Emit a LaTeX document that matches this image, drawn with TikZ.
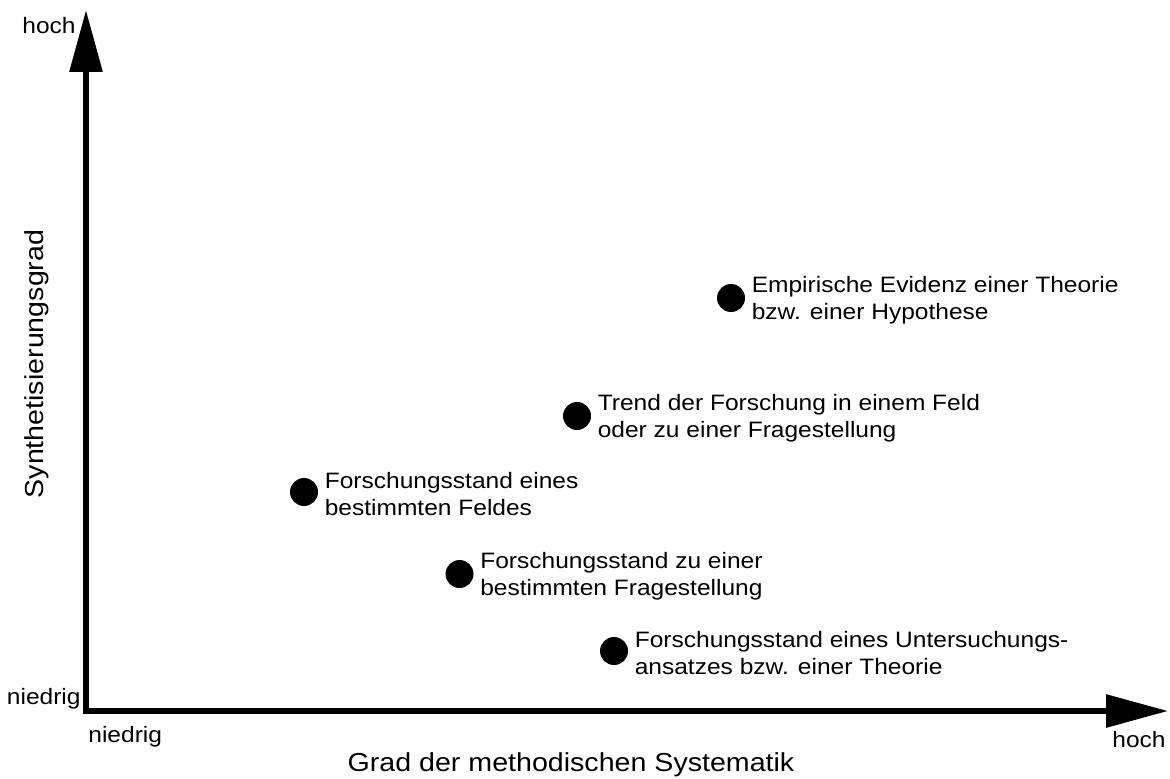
\documentclass[tikz,border=0pt]{standalone}
\usepackage{fontspec}
\setmainfont[FakeStretch=1.1]{Liberation Sans}
\usetikzlibrary{arrows.meta,positioning}

\begin{document}
\begin{tikzpicture}[
	x=0.5pt, y=0.5pt,
	axis/.style={ line width=3pt, line join=miter, {Triangle[length=31pt,width=16pt]}-{Triangle[length=31pt,width=16pt]} },
	dot/.style={ circle, fill, inner sep=0pt, minimum size=14pt },
	lbl/.style={ font=\fontsize{11.15}{13.25}\selectfont, align=left, inner sep=0pt, yshift=-1pt },
	tick/.style={ font=\fontsize{11.15}{13.25}\selectfont, inner sep=0pt },
	title/.style={ font=\fontsize{13}{15}\selectfont, inner sep=0pt }
]
\useasboundingbox (0,0) rectangle (1170,778);

\coordinate (O) at (86,67);
\coordinate (ytip) at (86,768);
\coordinate (xtip) at (1168,67);
\draw[axis] (ytip) -- (O) -- (xtip);

\node at (76,744) (yhigh) [tick,anchor=base east] {hoch};
\node at (81,74) (ylow) [tick,anchor=base east] {niedrig};
\node at (88,36) (xlow) [tick,anchor=base west] {niedrig};
\node at (1166,31) (xhigh) [tick,anchor=base east] {hoch};
\node at (571,7) (xtitle) [title,anchor=base] {Grad der methodischen Systematik};
\node at (43,414) (ytitle) [title,anchor=base,rotate=90] {Synthetisierungsgrad};

\node at (731,480) (d1) [dot] {};
\node[lbl,right=3pt of d1] (l1) {Empirische Evidenz einer Theorie\\bzw. einer Hypothese};
\node at (577,362) (d2) [dot] {};
\node[lbl,right=3pt of d2] (l2) {Trend der Forschung in einem Feld\\oder zu einer Fragestellung};
\node at (304,286) (d3) [dot] {};
\node[lbl,right=3pt of d3] (l3) {Forschungsstand eines\\bestimmten Feldes};
\node at (459.5,204) (d4) [dot] {};
\node[lbl,right=3pt of d4] (l4) {Forschungsstand zu einer\\bestimmten Fragestellung};
\node at (614,127) (d5) [dot] {};
\node[lbl,right=3pt of d5] (l5) {Forschungsstand eines Untersuchungs-\\ansatzes bzw. einer Theorie};

\end{tikzpicture}
\end{document}
